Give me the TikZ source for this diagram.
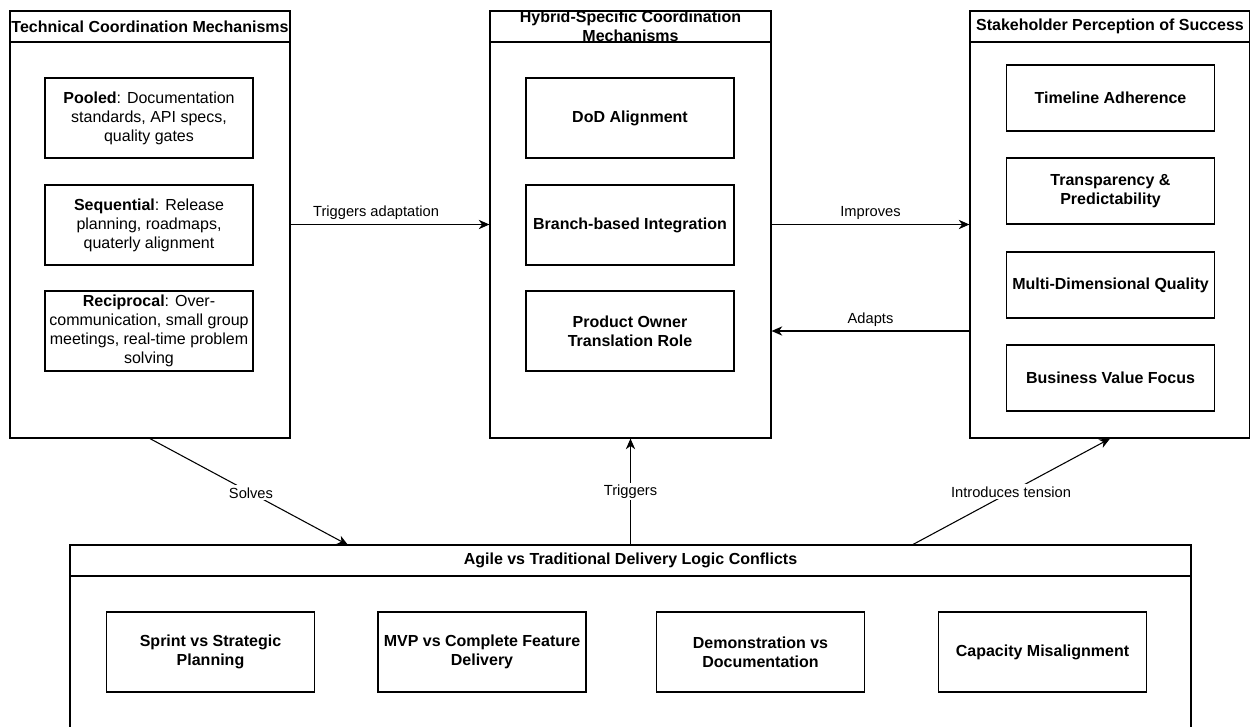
\documentclass[tikz,border=0pt]{standalone}
\usepackage{fontspec}
\setmainfont{Liberation Sans}
\usetikzlibrary{arrows.meta,calc}

\tikzset{
    cont/.style={draw, line width=0.9pt, inner sep=0pt},
    hdr/.style={draw, line width=0.9pt, anchor=north, minimum width=210pt, minimum height=23.25pt, inner sep=0pt},
    ttl/.style={font=\bfseries\fontsize{12}{14.6}\selectfont, align=center, inner sep=0pt},
    itembox/.style={draw, line width=0.9pt, minimum width=156pt, minimum height=60pt, align=center, inner sep=0pt, font=\fontsize{12}{14.2}\selectfont},
    itemb/.style={itembox, font=\bfseries\fontsize{12}{14.2}\selectfont},
    link/.style={-{Stealth[length=8pt, width=7pt, inset=2.5pt]}, line width=0.8pt},
    lbl/.style={font=\fontsize{11}{13}\selectfont, fill=white, inner sep=1.5pt},
    lbltop/.style={font=\fontsize{11}{13}\selectfont, above, inner sep=3pt}
}

\begin{document}
\begin{tikzpicture}[x=0.75pt, y=-0.75pt]
    \useasboundingbox (0,0) rectangle (1250,726);
    \clip (0,0) rectangle (1250,726);

    \node[cont, minimum width=210pt, minimum height=320.25pt] (tcm) at (150,224.5) {};
    \node[cont, minimum width=210.75pt, minimum height=320.25pt] (hcm) at (630.5,224.5) {};
    \node[cont, minimum width=210pt, minimum height=320.25pt] (sps) at (1110,224.5) {};
    \node[cont, minimum width=840.75pt, minimum height=161.25pt] (alc) at (630.5,652.5) {};

    \node[hdr] (tcmh) at (tcm.north) {};
    \node[hdr, minimum width=210.75pt] (hcmh) at (hcm.north) {};
    \node[hdr] (spsh) at (sps.north) {};
    \node[hdr, minimum width=840.75pt] (alch) at (alc.north) {};

    \node[ttl] (tcmt) at (tcmh) {Technical Coordination Mechanisms};
    \node[ttl] (hcmt) at (hcmh) {Hybrid-Specific Coordination\\Mechanisms};
    \node[ttl] (spst) at (spsh) {Stakeholder Perception of Success};
    \node[ttl] (alct) at (alch) {Agile vs Traditional Delivery Logic Conflicts};

    % technical
    \node[itembox] (pool) at (149,118) {\textbf{Pooled}: Documentation\\standards, API specs,\\quality gates};
    \node[itembox] (seq) at (149,225) {\textbf{Sequential}: Release\\planning, roadmaps,\\quaterly alignment};
    \node[itembox] (recip) at (149,331) {\textbf{Reciprocal}: Over-\\communication, small group\\meetings, real-time problem\\solving};

    % hybrid
    \node[itemb] (dod) at (630,118) {DoD Alignment};
    \node[itemb] (branch) at (630,225) {Branch-based Integration};
    \node[itemb] (po) at (630,331) {Product Owner\\Translation Role};

    % stakeholder
    \node[itemb, minimum height=49.5pt] (timeline) at (1110.5,98) {Timeline Adherence};
    \node[itemb, minimum height=49.5pt] (transp) at (1110.5,191) {Transparency \&\\Predictability};
    \node[itemb, minimum height=49.5pt] (quality) at (1110.5,285) {Multi-Dimensional Quality};
    \node[itemb, minimum height=49.5pt] (value) at (1110.5,378) {Business Value Focus};

    % conflicts
    \node[itemb] (sprint) at (210.5,652) {Sprint vs Strategic\\Planning};
    \node[itemb] (mvp) at (482,652) {MVP vs Complete Feature\\Delivery};
    \node[itemb] (demo) at (760.5,652) {Demonstration vs\\Documentation};
    \node[itemb] (capa) at (1042.5,652) {Capacity Misalignment};

    \coordinate (solvesend) at (348,545);
    \coordinate (tensionstart) at (912,545);

    \draw[link] (tcm.east) -- node[lbltop, pos=0.43] {Triggers adaptation} (hcm.west);
    \draw[link] (hcm.east) -- node[lbltop] {Improves} (sps.west);
    \draw[link] (sps.west |- po) -- node[lbltop] {Adapts} (hcm.east |- po);
    \draw[link] (tcm.south) -- node[lbl, pos=0.51] {Solves} (solvesend);
    \draw[link] (alc.north -| hcm.south) -- node[lbl] {Triggers} (hcm.south);
    \draw[link] (tensionstart) -- node[lbl] {Introduces tension} (sps.south);
\end{tikzpicture}
\end{document}
